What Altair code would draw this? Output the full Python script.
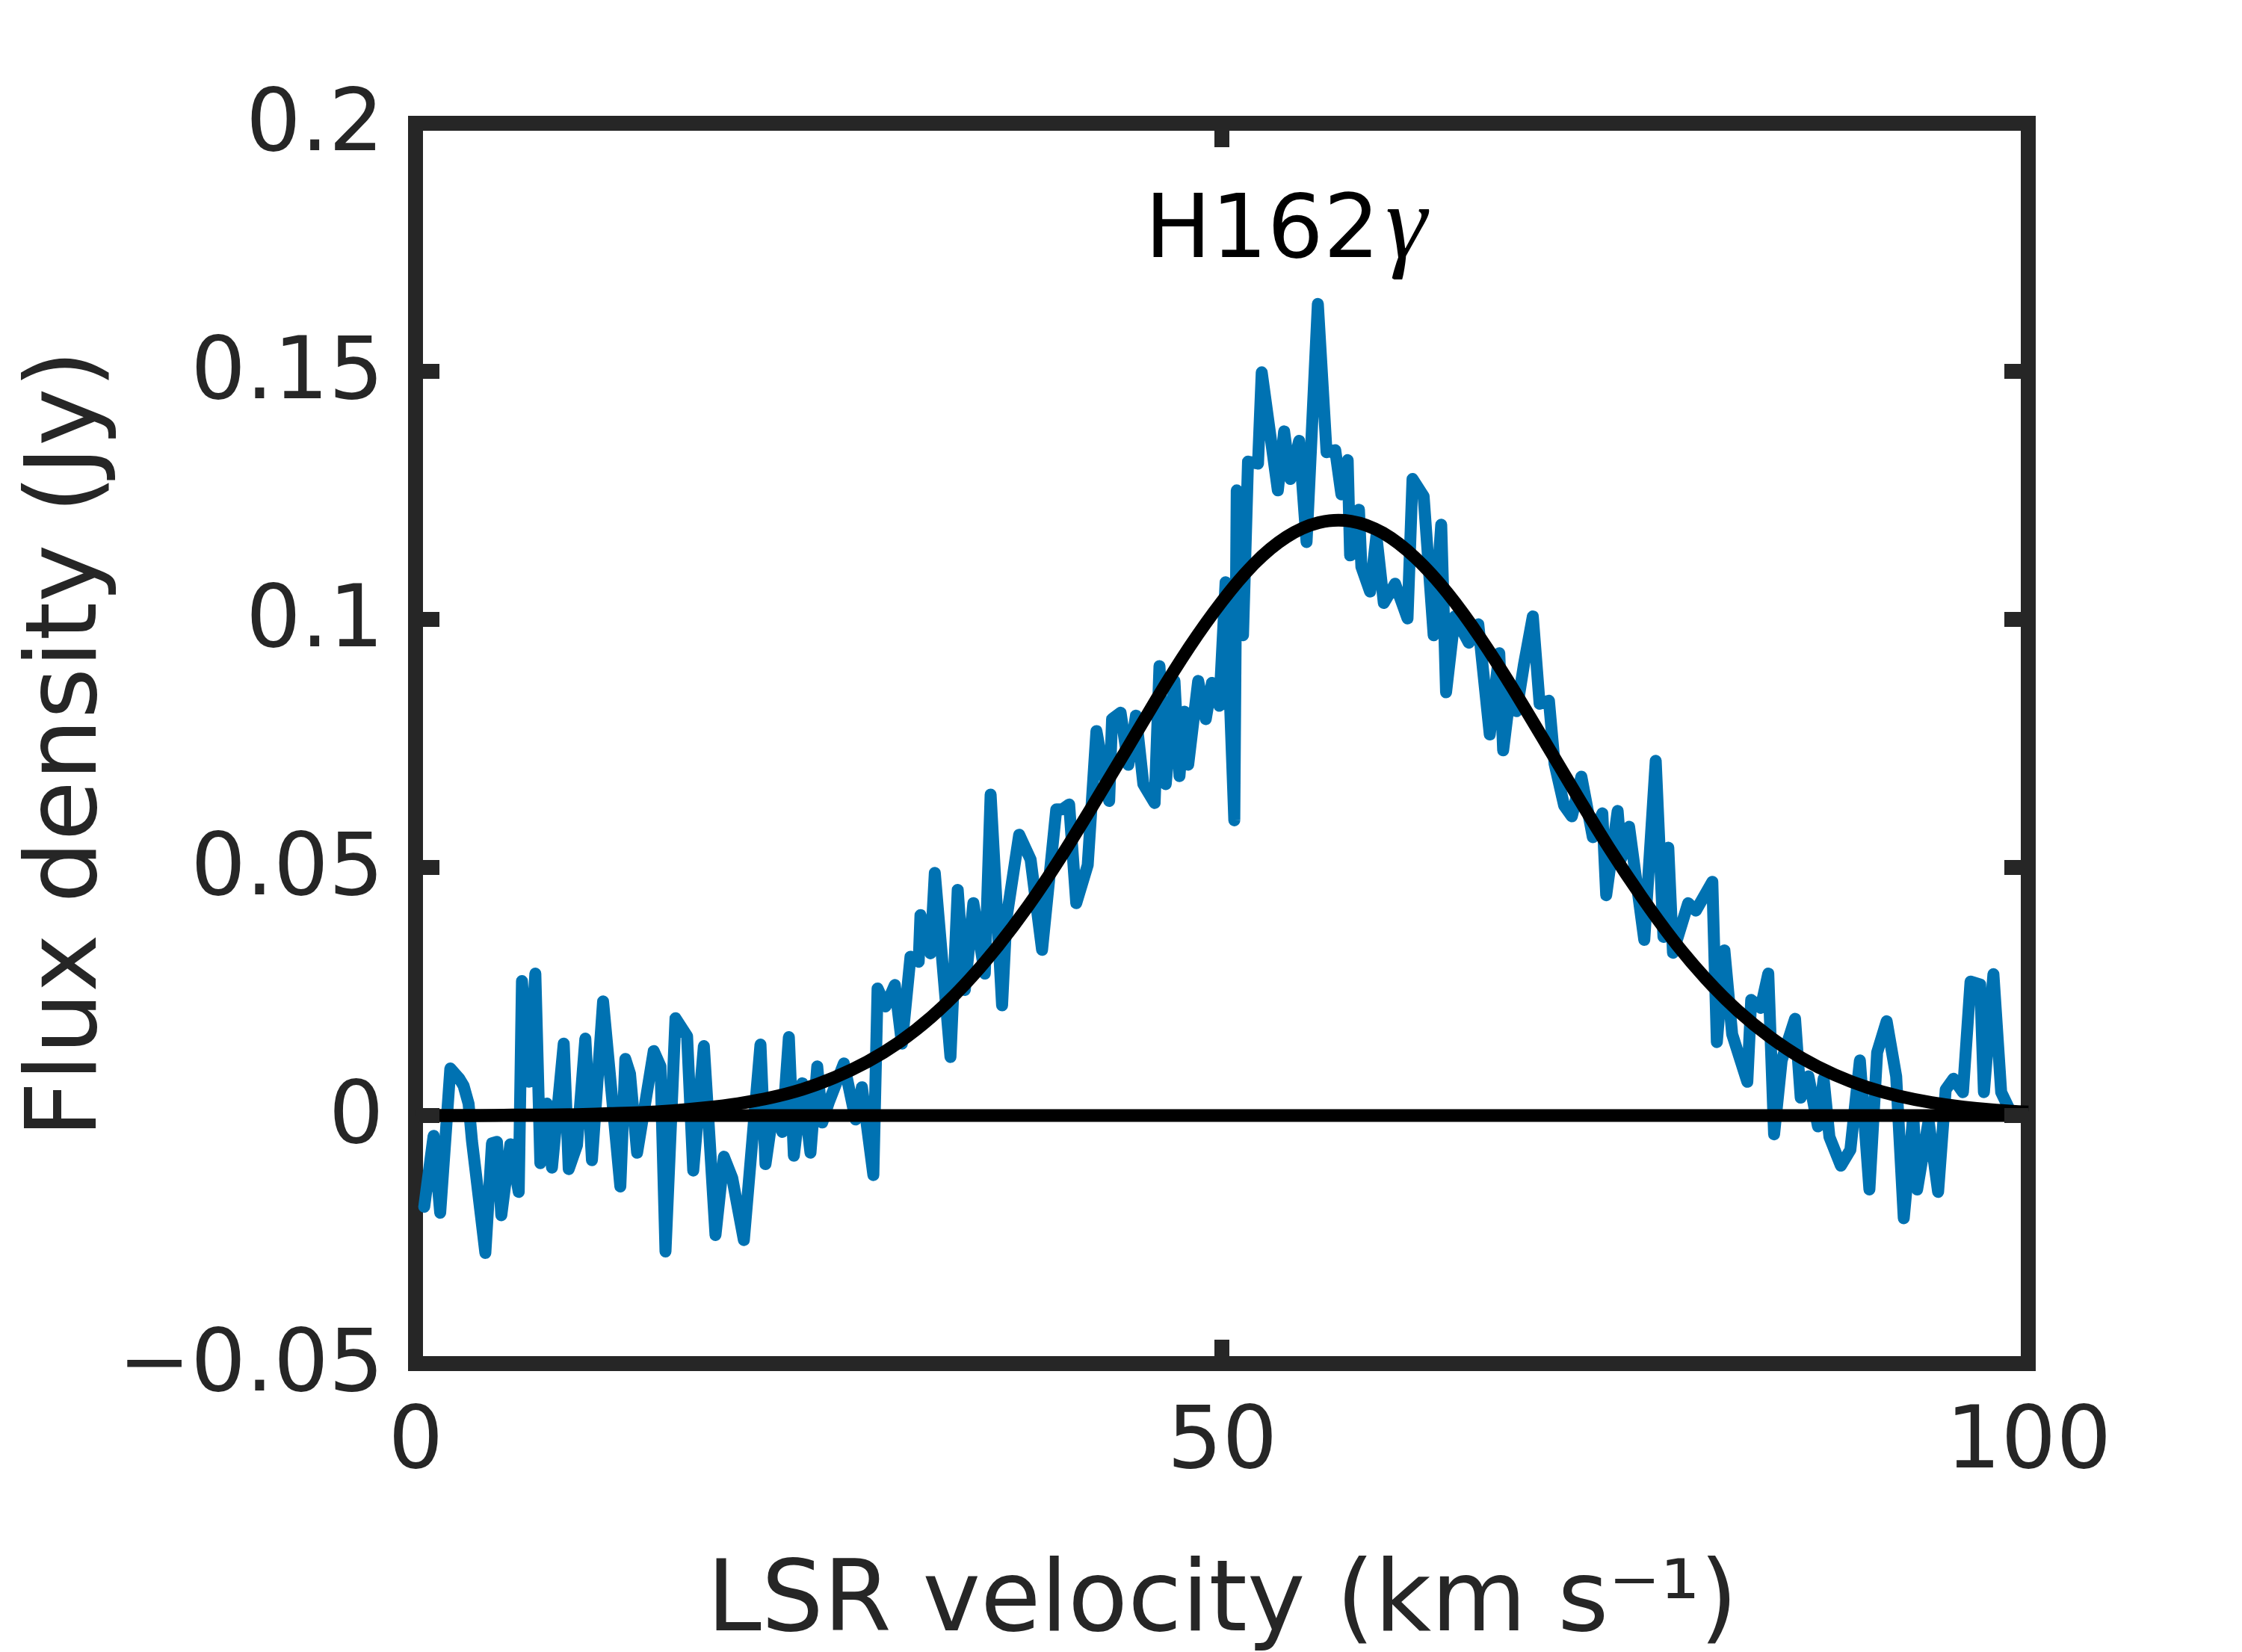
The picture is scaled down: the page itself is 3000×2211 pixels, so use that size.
import altair as alt
import pandas as pd

# ---------------- data ----------------
VEL = [0.54, 1.12, 1.53, 2.16, 2.70, 2.98, 3.29, 3.50, 3.70, 4.33, 4.74, 5.05, 5.32, 5.88, 6.40,
       6.60, 7.02, 7.43, 7.74, 8.15, 8.46, 9.19, 9.50, 10.01, 10.53, 10.94, 11.63, 12.70, 13.01,
       13.30, 13.74, 14.77, 15.19, 15.50, 16.12, 16.84, 17.22, 17.88, 18.60, 19.12, 19.64, 20.36,
       21.39, 21.70, 22.22, 22.74, 23.15, 23.46, 23.98, 24.49, 24.91, 25.22, 25.63, 26.56, 27.29,
       27.68, 28.39, 28.65, 29.15, 29.72, 30.16, 30.69, 31.20, 31.31, 31.93, 32.20, 33.17, 33.62,
       34.06, 34.59, 35.30, 35.66, 36.37, 36.63, 37.43, 38.14, 38.85, 39.73, 40.10, 40.53, 40.97,
       41.68, 42.22, 43.01, 43.19, 43.72, 44.20, 44.67, 45.13, 45.83, 46.13, 46.52, 47.06, 47.37,
       47.68, 47.91, 48.53, 49.00, 49.38, 49.84, 50.23, 50.77, 50.92, 51.31, 51.62, 52.24, 52.47,
       53.47, 53.86, 54.25, 54.79, 55.25, 55.95, 56.49, 57.03, 57.41, 57.80, 57.95, 58.50, 58.65,
       59.19, 59.58, 60.04, 60.74, 61.51, 61.82, 62.51, 63.13, 63.60, 63.90, 64.44, 65.31, 65.90,
       66.61, 67.20, 67.44, 67.90, 68.27, 68.74, 69.28, 69.70, 70.28, 70.63, 71.22, 71.70, 72.29,
       73.00, 73.59, 73.83, 74.54, 74.77, 75.25, 76.19, 76.90, 77.38, 77.68, 77.97, 78.91, 79.39,
       80.41, 80.69, 81.16, 81.64, 82.58, 82.82, 83.41, 83.88, 84.24, 84.71, 85.54, 85.89, 86.37,
       86.96, 87.31, 87.67, 88.38, 88.97, 89.56, 90.15, 90.63, 91.22, 91.81, 92.28, 92.87, 93.11,
       93.82, 94.41, 94.88, 95.36, 95.95, 96.42, 97.02, 97.25, 97.84, 98.32, 98.79, 99.20]

FLUX = [-0.0184, -0.0041, -0.0196, 0.0095, 0.0075, 0.0060, 0.0024, -0.0051, -0.0105, -0.0277,
        -0.0056, -0.0053, -0.0201, -0.0058, -0.0154, 0.0271, 0.0068, 0.0286, -0.0096, 0.0024,
        -0.0105, 0.0145, -0.0108, -0.0060, 0.0155, -0.0090, 0.0230, -0.0143, 0.0114, 0.0084,
        -0.0075, 0.0130, 0.0099, -0.0274, 0.0196, 0.0160, -0.0111, 0.0140, -0.0241, -0.0083,
        -0.0126, -0.0251, 0.0143, -0.0098, 0.0020, -0.0033, 0.0158, -0.0081, 0.0065, -0.0075,
        0.0099, -0.0014, 0.0027, 0.0105, -0.0008, 0.0057, -0.0120, 0.0256, 0.0220, 0.0263,
        0.0145, 0.0320, 0.0310, 0.0404, 0.0327, 0.0489, 0.0118, 0.0455, 0.0253, 0.0428,
        0.0286, 0.0647, 0.0222, 0.0394, 0.0566, 0.0516, 0.0334, 0.0617, 0.0617, 0.0627,
        0.0428, 0.0505, 0.0775, 0.0634, 0.0799, 0.0812, 0.0707, 0.0806, 0.0668, 0.0630,
        0.0906, 0.0668, 0.0876, 0.0684, 0.0814, 0.0707, 0.0876, 0.0799, 0.0872, 0.0826,
        0.1075, 0.0595, 0.1260, 0.0968, 0.1318, 0.1314, 0.1498, 0.1260, 0.1379, 0.1283,
        0.1360, 0.1156, 0.1636, 0.1337, 0.1341, 0.1252, 0.1321, 0.1129, 0.1221, 0.1106,
        0.1056, 0.1168, 0.1033, 0.1072, 0.1002, 0.1283, 0.1248, 0.0968, 0.1191, 0.0853,
        0.1006, 0.0953, 0.0990, 0.0768, 0.0932, 0.0736, 0.0858, 0.0815, 0.0911, 0.1006,
        0.0830, 0.0836, 0.0709, 0.0625, 0.0603, 0.0683, 0.0561, 0.0609, 0.0444, 0.0614,
        0.0519, 0.0582, 0.0354, 0.0715, 0.0360, 0.0540, 0.0328, 0.0428, 0.0413, 0.0471,
        0.0148, 0.0333, 0.0164, 0.0068, 0.0233, 0.0217, 0.0286, -0.0038, 0.0111, 0.0195,
        0.0036, 0.0079, -0.0022, 0.0074, -0.0043, -0.0101, -0.0069, 0.0111, -0.0149, 0.0127,
        0.0190, 0.0079, -0.0207, 0.0000, -0.0149, -0.0011, -0.0154, 0.0052, 0.0074, 0.0047,
        0.0270, 0.0264, 0.0047, 0.0285, 0.0047, 0.0015, 0.0005]

FIT_VEL = [0, 2, 4, 6, 8, 10, 12, 14, 16, 18, 20, 22, 24, 26, 28, 30, 32, 34, 36, 38, 40,
           42, 44, 46, 48, 50, 52, 54, 56, 58, 60, 62, 64, 66, 68, 70, 72, 74, 76, 78, 80,
           82, 84, 86, 88, 90, 92, 94, 96, 98, 100]
FIT_FLUX = [0.0000, 0.0000, 0.0000, 0.0001, 0.0001, 0.0002, 0.0004, 0.0006, 0.0010, 0.0016,
            0.0024, 0.0036, 0.0053, 0.0077, 0.0108, 0.0148, 0.0199, 0.0262, 0.0337, 0.0423,
            0.0520, 0.0625, 0.0733, 0.0842, 0.0945, 0.1036, 0.1112, 0.1166, 0.1195, 0.1198,
            0.1174, 0.1124, 0.1053, 0.0964, 0.0863, 0.0755, 0.0646, 0.0540, 0.0442, 0.0353,
            0.0276, 0.0211, 0.0158, 0.0115, 0.0082, 0.0057, 0.0039, 0.0026, 0.0017, 0.0011,
            0.0007]

ZERO_VEL = [0, 100]
ZERO_FLUX = [0, 0]

X_TICKS = [0, 50, 100]
Y_TICKS = [-0.05, 0, 0.05, 0.1, 0.15, 0.2]

TITLE_MAIN = ["H162"]
TITLE_GREEK = ["γ"]
X_TITLE = "LSR velocity (km s⁻¹)"
Y_TITLE = "Flux density (Jy)"

# ---------------- styling ----------------
W, H = 2158, 1660
FRAME = "#262626"
BLUE = "#0072B2"
FONT = "DejaVu Sans"
TICK_LEN = 32

x_scale = alt.Scale(domain=[0, 100], nice=False, zero=False)
y_scale = alt.Scale(domain=[-0.05, 0.2], nice=False, zero=False)

x_axis = alt.Axis(values=X_TICKS, format="d", title=X_TITLE, domain=False, ticks=False,
                  tickSize=0, grid=False, labelPadding=46, labelFontSize=116, labelFont=FONT,
                  labelColor=FRAME, labelFlush=False, labelOverlap=False, labelLimit=0,
                  titleFontSize=131, titleFont=FONT, titleColor=FRAME, titleFontWeight="normal",
                  titleLimit=0, titleX=W / 2, titleY=356, titleAlign="center",
                  titleBaseline="alphabetic")
y_axis = alt.Axis(values=Y_TICKS, format="~g", title=Y_TITLE, domain=False, ticks=False,
                  tickSize=0, grid=False, labelPadding=43, labelFontSize=116, labelFont=FONT,
                  labelColor=FRAME, labelFlush=False, labelOverlap=False, labelLimit=0,
                  labelAlign="right", labelBaseline="middle",
                  titleFontSize=131, titleFont=FONT, titleColor=FRAME, titleFontWeight="normal",
                  titleLimit=0, titleX=-468, titleY=H / 2, titleAlign="center",
                  titleBaseline="middle", titleAngle=270)

X = alt.X("v:Q", scale=x_scale, axis=x_axis)
Y = alt.Y("f:Q", scale=y_scale, axis=y_axis)

spec_df = pd.DataFrame({"v": VEL, "f": FLUX})
fit_df = pd.DataFrame({"v": FIT_VEL, "f": FIT_FLUX})
zero_df = pd.DataFrame({"v": ZERO_VEL, "f": ZERO_FLUX})
xt_df = pd.DataFrame({"v": X_TICKS})
yt_df = pd.DataFrame({"f": Y_TICKS})
t1_df = pd.DataFrame({"label": TITLE_MAIN})
t2_df = pd.DataFrame({"label": TITLE_GREEK})

spectrum = alt.Chart(spec_df).mark_line(
    color=BLUE, strokeWidth=16, strokeCap="round", strokeJoin="round"
).encode(x=X, y=Y)

fit = alt.Chart(fit_df).mark_line(
    color="#000000", strokeWidth=17, interpolate="natural", strokeCap="butt"
).encode(x=X, y=Y)

zero = alt.Chart(zero_df).mark_line(
    color="#000000", strokeWidth=17, strokeCap="butt"
).encode(x=X, y=Y)

tick_style = dict(color=FRAME, strokeWidth=20, strokeCap="butt")
left_ticks = alt.Chart(yt_df).mark_rule(**tick_style).encode(
    y=Y, x=alt.value(0), x2=alt.value(TICK_LEN))
right_ticks = alt.Chart(yt_df).mark_rule(**tick_style).encode(
    y=Y, x=alt.value(W - TICK_LEN), x2=alt.value(W))
bottom_ticks = alt.Chart(xt_df).mark_rule(**tick_style).encode(
    x=X, y=alt.value(H - TICK_LEN), y2=alt.value(H))
top_ticks = alt.Chart(xt_df).mark_rule(**tick_style).encode(
    x=X, y=alt.value(0), y2=alt.value(TICK_LEN))

title_main = alt.Chart(t1_df).mark_text(
    font=FONT, fontSize=118, color="#000000", align="right", baseline="alphabetic"
).encode(text="label:N", x=alt.value(1290), y=alt.value(179))
title_greek = alt.Chart(t2_df).mark_text(
    font="Liberation Serif", fontSize=140, fontStyle="italic", color="#000000",
    align="left", baseline="alphabetic"
).encode(text="label:N", x=alt.value(1298), y=alt.value(179))

chart = alt.layer(
    spectrum, fit, zero, left_ticks, right_ticks, bottom_ticks, top_ticks,
    title_main, title_greek
).properties(
    width=W, height=H,
    background="white",
    autosize=alt.AutoSizeParams(type="none"),
    padding={"left": 548, "top": 157, "right": 250, "bottom": 386},
).configure_view(
    stroke=FRAME, strokeWidth=20
)

chart.save("out.html", embed_options={"renderer": "svg", "actions": False})
